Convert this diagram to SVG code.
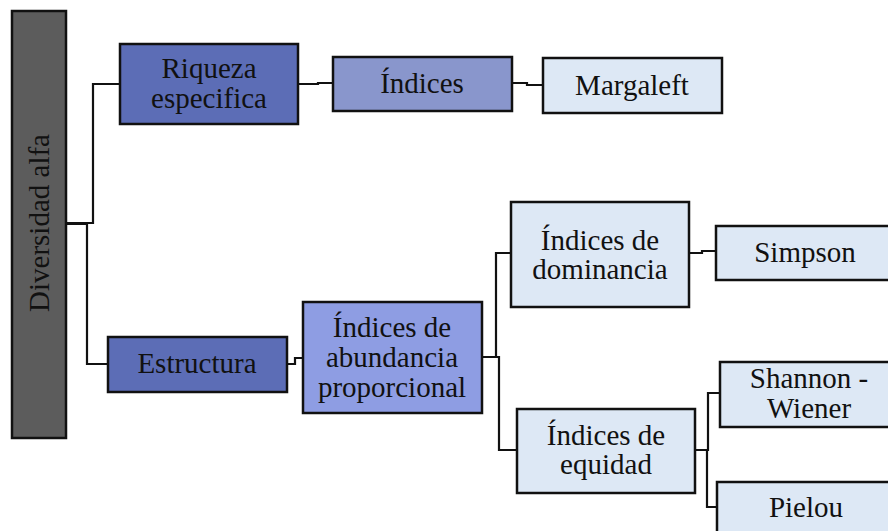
<svg xmlns="http://www.w3.org/2000/svg" width="888" height="531" viewBox="0 0 888 531" font-family="Liberation Serif, Times New Roman, serif">
<style>
.box{stroke:#111;stroke-width:2.5}
.dark{fill:#5c6db6}
.mid{fill:#8996cc}
.mid2{fill:#8e9de3}
.light{fill:#dde8f5}
.gray{fill:#5c5c5c}
.t{font-size:29px;fill:#111;text-anchor:middle}
.conn{fill:none;stroke:#111;stroke-width:2.2}
</style>
<rect width="888" height="531" fill="#fff"/>
<g id="connectors" class="conn">
<path d="M66,223 H93 V84 H120"/>
<path d="M66,224 H87 V364 H108"/>
<path d="M298,84 H318 V83 H333"/>
<path d="M512,83 H527 V85 H543"/>
<path d="M287,364 H295 V358 H303"/>
<path d="M482,357 H496 V253 H511"/>
<path d="M482,357 H499 V450 H517"/>
<path d="M690,253 H702 V251 H716"/>
<path d="M695,450 H708 V393 H720"/>
<path d="M695,450 H707 V507 H717"/>
</g>
<g id="diversidad">
<rect class="box gray" x="12" y="11" width="54" height="427"/>
<text class="t" font-family="Liberation Serif, serif" transform="translate(49,223) rotate(-90)" fill="#222">Diversidad alfa</text>
</g>
<g id="riqueza">
<rect class="box dark" x="120" y="44" width="178" height="80"/>
<text class="t" font-family="Liberation Serif, serif" x="209" y="78">Riqueza</text>
<text class="t" font-family="Liberation Serif, serif" x="209" y="108">especifica</text>
</g>
<g id="indices">
<rect class="box mid" x="333" y="57" width="179" height="54"/>
<text class="t" font-family="Liberation Serif, serif" x="422" y="93">Índices</text>
</g>
<g id="margaleft">
<rect class="box light" x="543" y="58" width="179" height="55"/>
<text class="t" font-family="Liberation Serif, serif" x="632" y="95">Margaleft</text>
</g>
<g id="estructura">
<rect class="box dark" x="108" y="337" width="179" height="55"/>
<text class="t" font-family="Liberation Serif, serif" x="197" y="373">Estructura</text>
</g>
<g id="abundancia">
<rect class="box mid2" x="303" y="302" width="179" height="111"/>
<text class="t" font-family="Liberation Serif, serif" x="392" y="337">Índices de</text>
<text class="t" font-family="Liberation Serif, serif" x="392" y="367">abundancia</text>
<text class="t" font-family="Liberation Serif, serif" x="392" y="397">proporcional</text>
</g>
<g id="dominancia">
<rect class="box light" x="511" y="202" width="178" height="105"/>
<text class="t" font-family="Liberation Serif, serif" x="600" y="250">Índices de</text>
<text class="t" font-family="Liberation Serif, serif" x="600" y="279">dominancia</text>
</g>
<g id="equidad">
<rect class="box light" x="517" y="409" width="178" height="84"/>
<text class="t" font-family="Liberation Serif, serif" x="606" y="445">Índices de</text>
<text class="t" font-family="Liberation Serif, serif" x="606" y="474">equidad</text>
</g>
<g id="simpson">
<rect class="box light" x="716" y="226" width="180" height="54"/>
<text class="t" font-family="Liberation Serif, serif" x="805" y="262">Simpson</text>
</g>
<g id="shannon">
<rect class="box light" x="720" y="362" width="180" height="65"/>
<text class="t" font-family="Liberation Serif, serif" x="809" y="388">Shannon -</text>
<text class="t" font-family="Liberation Serif, serif" x="809" y="418">Wiener</text>
</g>
<g id="pielou">
<rect class="box light" x="717" y="482" width="180" height="60"/>
<text class="t" font-family="Liberation Serif, serif" x="806" y="517">Pielou</text>
</g>
</svg>
